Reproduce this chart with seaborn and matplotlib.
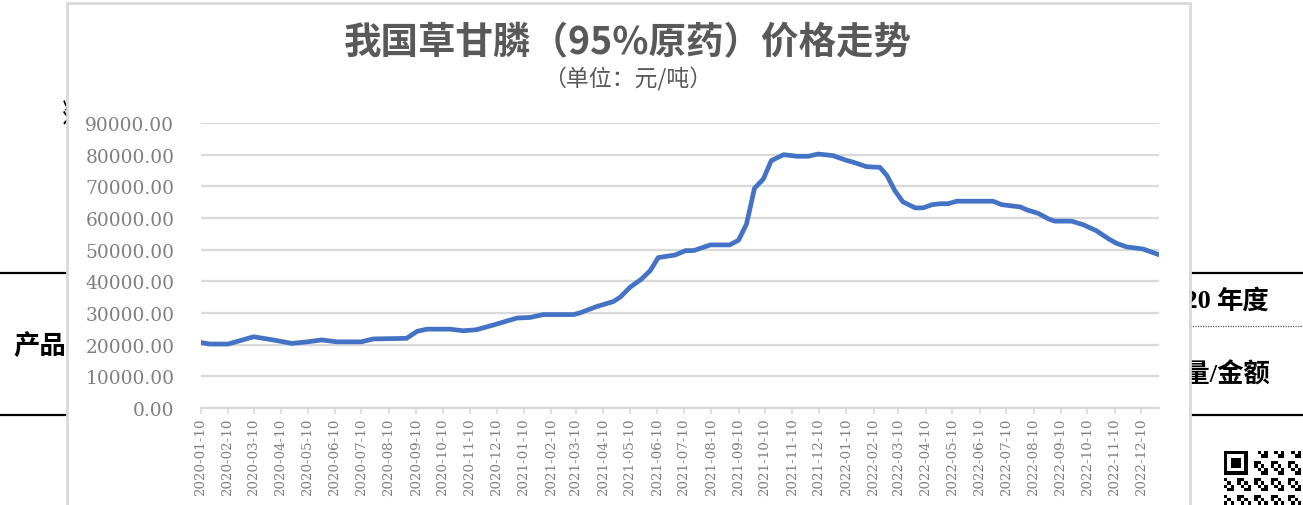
import numpy as np
import pandas as pd
import matplotlib
matplotlib.use("Agg")
import matplotlib.pyplot as plt
from matplotlib.patches import Rectangle
from matplotlib.lines import Line2D
import seaborn as sns

# ---------------- data ----------------
dates = ["2020-01-10", "2020-01-20", "2020-02-10", "2020-03-10", "2020-04-05", "2020-04-22",
         "2020-05-10", "2020-05-26", "2020-06-12", "2020-07-10", "2020-07-23", "2020-08-30",
         "2020-09-11", "2020-09-22", "2020-10-18", "2020-11-02", "2020-11-17", "2020-12-10",
         "2021-01-02", "2021-01-17", "2021-02-01", "2021-03-07", "2021-03-14", "2021-04-02",
         "2021-04-21", "2021-04-29", "2021-05-10", "2021-05-23", "2021-06-02", "2021-06-11",
         "2021-06-30", "2021-07-12", "2021-07-21", "2021-08-09", "2021-08-31", "2021-09-10",
         "2021-09-19", "2021-09-28", "2021-10-08", "2021-10-17", "2021-10-31", "2021-11-15",
         "2021-11-28", "2021-12-09", "2021-12-26", "2022-01-09", "2022-01-18", "2022-02-02",
         "2022-02-17", "2022-02-25", "2022-03-06", "2022-03-15", "2022-03-29", "2022-04-07",
         "2022-04-17", "2022-04-26", "2022-05-05", "2022-05-15", "2022-06-25", "2022-07-05",
         "2022-07-26", "2022-08-02", "2022-08-15", "2022-08-27", "2022-09-03", "2022-09-22",
         "2022-10-05", "2022-10-20", "2022-11-03", "2022-11-12", "2022-11-23", "2022-12-12",
         "2022-12-30"]
prices = [20700, 20200, 20200, 22500, 21300, 20400, 20900, 21500, 20900, 20900,
          21800, 22000, 24200, 24900, 24900, 24400, 24700, 26500, 28400, 28600,
          29500, 29500, 30000, 32000, 33600, 35000, 38100, 40700, 43400, 47500,
          48300, 49700, 49700, 51500, 51500, 53000, 58100, 69400, 72300, 78100,
          80000, 79500, 79500, 80200, 79700, 78300, 77600, 76200, 76000, 73400,
          68600, 65100, 63200, 63200, 64200, 64500, 64500, 65300, 65300, 64200,
          63500, 62600, 61500, 59700, 59000, 59000, 57900, 56000, 53400, 52000,
          50900, 50200, 48400]
tick_dates = list(pd.date_range("2020-01-10", periods=36, freq=pd.DateOffset(months=1)))
y_ticks = [0, 10000, 20000, 30000, 40000, 50000, 60000, 70000, 80000, 90000]

title = "我国草甘膦（95%原药）价格走势"
subtitle = "（单位：元/吨）"

# ---------------- style ----------------
sns.set_theme(style="white")
plt.rcParams["font.family"] = ["Noto Sans CJK SC", "DejaVu Sans"]

W, H = 1303, 506
fig = plt.figure(figsize=(W / 100, H / 100), dpi=100)
fig.patch.set_facecolor("white")

def fx(px):
    return px / W

def fy(py):
    return 1 - py / H

# ------ background document (behind chart panel) ------
doc_font = ["Liberation Serif", "Noto Sans CJK SC"]
for y in (274, 416):
    fig.add_artist(Line2D([0, fx(67)], [fy(y), fy(y)], color="black", lw=1.6, zorder=0.3))
    fig.add_artist(Line2D([fx(1190), 1], [fy(y), fy(y)], color="black", lw=1.6, zorder=0.3))
fig.add_artist(Line2D([fx(1190), 1], [fy(327), fy(327)], color="#555555", lw=0.9,
                      ls=(0, (1, 1)), zorder=0.3))
fig.text(fx(40), fy(346), "产品", family=doc_font, fontsize=19, color="black",
         ha="center", va="center", fontweight="bold", zorder=0.4)
fig.text(fx(70), fy(112), "数", family=doc_font, fontsize=19, color="black",
         ha="center", va="center", rotation=-90, zorder=0.4)
fig.text(fx(1212), fy(301), "2020", family=doc_font, fontsize=19, color="black",
         ha="right", va="center", fontweight="bold", zorder=0.4)
fig.text(fx(1270), fy(301), "年度", family=doc_font, fontsize=19, color="black",
         ha="right", va="center", fontweight="bold", zorder=0.4)
fig.text(fx(1270), fy(375), "数量/金额", family=doc_font, fontsize=19, color="black",
         ha="right", va="center", fontweight="bold", zorder=0.4)

# QR code (decorative)
n = 25
qr = np.zeros((n, n))
for i in range(n):
    for j in range(n):
        qr[i, j] = 1 if ((i * 7 + j * 13 + i * j) % 5) < 2 else 0
def finder(r, c):
    qr[r:r + 7, c:c + 7] = 1
    qr[r + 1:r + 6, c + 1:c + 6] = 0
    qr[r + 2:r + 5, c + 2:c + 5] = 1
    qr[max(r - 1, 0):r + 8, c + 7:c + 8] = 0
finder(0, 0)
ax_qr = fig.add_axes([fx(1224), fy(452 + 84), fx(84), 84 / H], zorder=0.35)
ax_qr.imshow(qr, cmap="binary", interpolation="nearest", aspect="auto")
ax_qr.axis("off")

# ------ chart panel ------
panel = Rectangle((fx(67), fy(560)), fx(1190 - 67), (560 - 4) / H,
                  transform=fig.transFigure, facecolor="white",
                  edgecolor="#d9d9d9", lw=2, zorder=0.8)
fig.add_artist(panel)

# ------ main axes ------
left, right, top, bottom = 200.7, 1159, 124, 409
ax = fig.add_axes([fx(left), fy(bottom), fx(right - left), (bottom - top) / H], zorder=1)
ax.patch.set_alpha(0)

df = pd.DataFrame({"date": pd.to_datetime(dates), "price": prices})
sns.lineplot(data=df, x="date", y="price", ax=ax, color="#4472C4", lw=3.4,
             solid_capstyle="round", solid_joinstyle="round", zorder=3)

ax.set_xlim(pd.Timestamp("2020-01-10"), pd.Timestamp("2022-12-30"))
ax.set_ylim(0, 90000)
ax.set_yticks(y_ticks)
ax.set_yticklabels([f"{v:.2f}" for v in y_ticks])
ax.set_xticks(tick_dates)
ax.set_xticklabels([d.strftime("%Y-%m-%d") for d in tick_dates], rotation=90)
ax.set_xlabel("")
ax.set_ylabel("")

ax.grid(axis="y", color="#d9d9d9", lw=1.6)
ax.grid(axis="x", visible=False)
ax.set_axisbelow(True)
for s in ("top", "right", "left"):
    ax.spines[s].set_visible(False)
ax.spines["bottom"].set_color("#d9d9d9")
ax.spines["bottom"].set_linewidth(1.6)

ax.tick_params(axis="y", length=0, pad=19, labelsize=13.4, labelcolor="#7f7f7f")
ax.tick_params(axis="x", length=4, width=1.2, color="#d9d9d9", pad=3,
               labelsize=9.6, labelcolor="#7f7f7f", bottom=True)
for lab in ax.get_yticklabels() + ax.get_xticklabels():
    lab.set_family("DejaVu Serif")

fig.text(fx(628), fy(43), title, fontsize=27, color="#595959", ha="center",
         va="center", fontweight="bold", zorder=2)
fig.text(fx(628), fy(79), subtitle, fontsize=16.5, color="#595959", ha="center",
         va="center", zorder=2)

fig.savefig("out.png", dpi=100)
